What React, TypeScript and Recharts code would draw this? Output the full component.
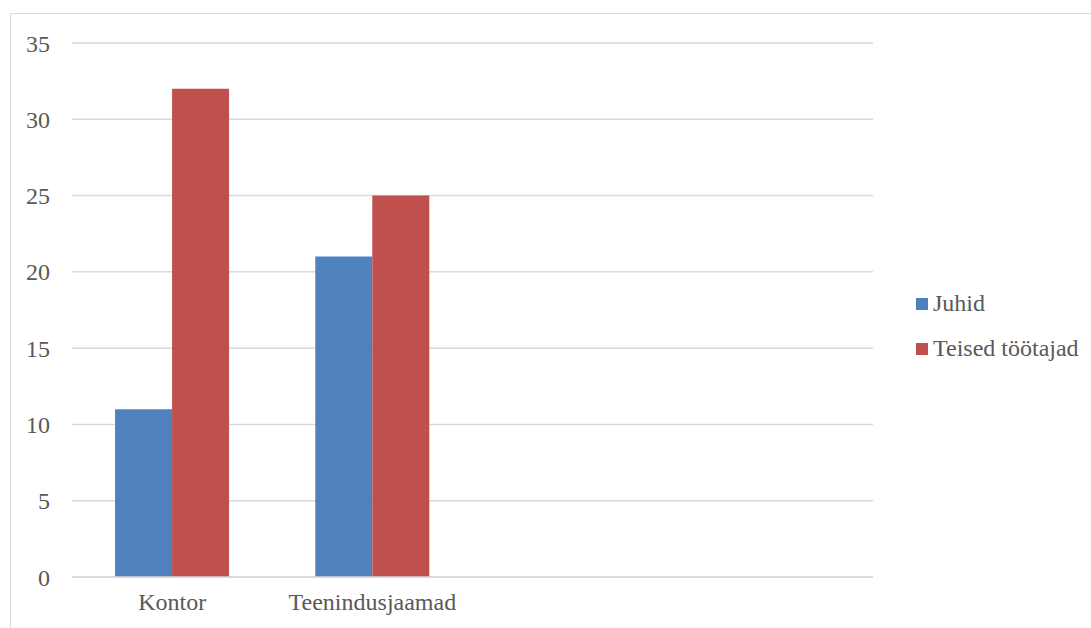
import { BarChart, Bar, XAxis, YAxis, CartesianGrid } from "recharts";

const categories = ["Kontor", "Teenindusjaamad", "", ""];
const juhid = [11, 21, null, null];
const teisedTootajad = [32, 25, null, null];
const yTicks = [0, 5, 10, 15, 20, 25, 30, 35];

const FONT = '"Liberation Serif", "Times New Roman", serif';
const TEXT = "#595959";
const GRID = "#d9d9d9";
const FS = 24;

const series = [
  { key: "juhid", name: "Juhid", color: "#4F81BD" },
  { key: "teised", name: "Teised töötajad", color: "#C0504D" },
];

const data = categories.map((cat, i) => ({
  cat,
  juhid: juhid[i],
  teised: teisedTootajad[i],
}));

// legend drawn beside the chart so it doesn't eat into the plot area
function LegendBox() {
  return (
    <div style={{ position: "absolute", left: 916, top: 281, fontFamily: FONT, fontSize: FS, color: TEXT }}>
      {series.map((s) => (
        <div key={s.key} style={{ display: "flex", alignItems: "center", height: 45, whiteSpace: "nowrap" }}>
          <span style={{ width: 12, height: 12, background: s.color, marginRight: 5, display: "inline-block" }} />
          <span>{s.name}</span>
        </div>
      ))}
    </div>
  );
}

export default function App() {
  return (
    <div style={{ position: "absolute", left: 0, top: 0, width: 1091, height: 628, overflow: "hidden", background: "#fff" }}>
      <div
        style={{
          position: "absolute",
          left: 10,
          top: 13,
          width: 1200,
          height: 800,
          border: `1px solid ${GRID}`,
          boxSizing: "border-box",
        }}
      />
      <div style={{ position: "absolute", left: 0, top: 0 }}>
        <BarChart
          width={1091}
          height={628}
          data={data}
          margin={{ top: 43, right: 218, bottom: 0, left: 12 }}
          barCategoryGap="21.5%"
          barGap={0}
        >
          <CartesianGrid vertical={false} stroke={GRID} strokeWidth={1.5} />
          <XAxis
            dataKey="cat"
            height={51}
            axisLine={{ stroke: GRID, strokeWidth: 1.5 }}
            tickLine={false}
            tickSize={0}
            tickMargin={16}
            interval={0}
            tick={{ fill: TEXT, fontSize: FS, fontFamily: FONT }}
          />
          <YAxis
            width={60}
            domain={[0, 35]}
            ticks={yTicks}
            axisLine={false}
            tickLine={false}
            tickSize={0}
            tickMargin={22}
            tick={{ fill: TEXT, fontSize: FS, fontFamily: FONT }}
          />
          {series.map((s) => (
            <Bar key={s.key} dataKey={s.key} name={s.name} fill={s.color} isAnimationActive={false} />
          ))}
        </BarChart>
      </div>
      <LegendBox />
    </div>
  );
}
